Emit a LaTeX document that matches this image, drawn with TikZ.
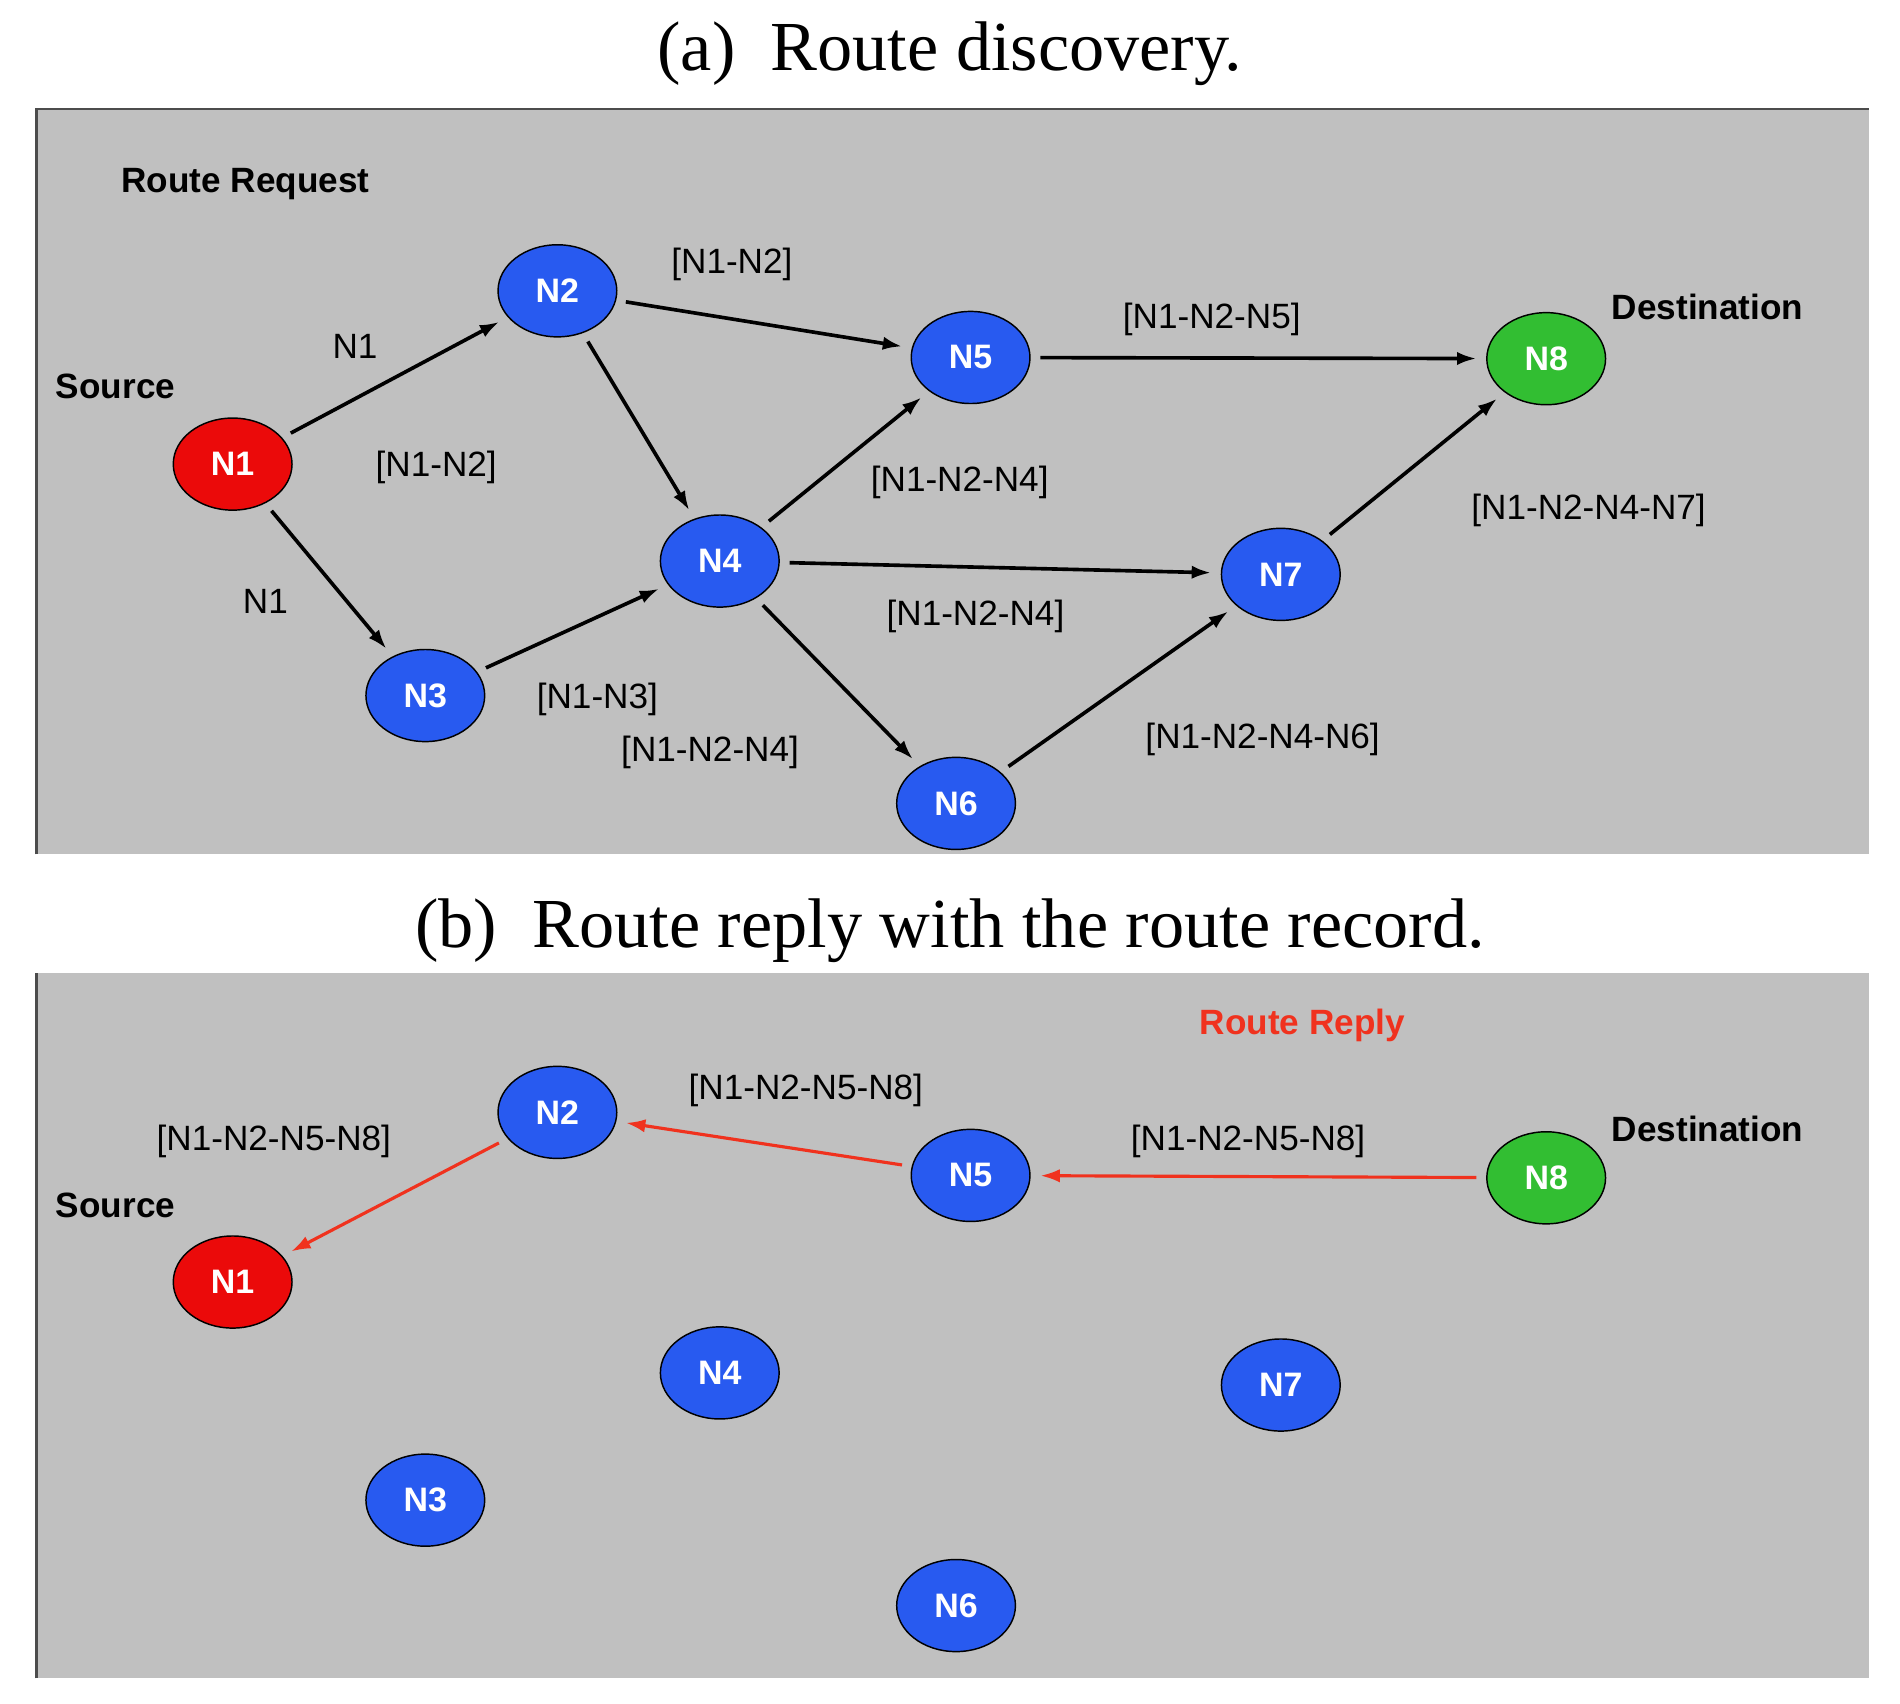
\documentclass[tikz,border=0pt]{standalone}
\usepackage{fontspec}
\setmainfont{Liberation Serif}
\newfontfamily\myss{Liberation Sans}
\usetikzlibrary{shapes.geometric,arrows.meta}
\definecolor{bg}{RGB}{192,192,192}
\definecolor{nblue}{RGB}{40,90,240}
\definecolor{nred}{RGB}{235,10,10}
\definecolor{ngreen}{RGB}{50,190,50}
\definecolor{rr}{RGB}{240,50,30}
\begin{document}
\begin{tikzpicture}[x=1pt,y=-1pt,
 nd/.style={ellipse,draw=black,line width=1.2pt,fill=nblue,minimum width=98pt,minimum height=76pt,inner sep=0pt,text=white,font=\myss\bfseries\fontsize{28}{30}\selectfont},
 rd/.style={nd,fill=nred}, gn/.style={nd,fill=ngreen},
 lb/.style={font=\myss\fontsize{29}{32}\selectfont,inner sep=0pt},
 bl/.style={font=\myss\bfseries\fontsize{29}{32}\selectfont,inner sep=0pt},
 ttl/.style={font=\fontsize{58}{64}\selectfont,inner sep=0pt},
 ar/.style={-{Latex[length=16pt,width=11pt]},line width=3pt,shorten >=8pt,shorten <=8pt},
 ra/.style={ar,draw=rr,line width=2.6pt}]
\useasboundingbox (0,0) rectangle (1568,1406);
\fill[white] (0,0) rectangle (1568,1406);
% panel a
\fill[bg] (30,90) rectangle (1542,705);
\draw[line width=2pt,black!70] (30,705) -- (30,90) -- (1542,90);
\node[ttl] (ta) at (784,44) {(a)\ \ Route discovery.};
\node[bl,anchor=west] (rq) at (100,152) {Route Request};
\node[bl,anchor=west] (sa) at (46,319) {Source};
\node[bl,anchor=west] (da) at (1330,253) {Destination};
\node[rd] (a1) at (192,383) {N1};
\node[nd] (a2) at (460,240) {N2};
\node[nd] (a3) at (351,574) {N3};
\node[nd] (a4) at (594,463) {N4};
\node[nd] (a5) at (801,295) {N5};
\node[nd] (a6) at (789,663) {N6};
\node[nd] (a7) at (1057,474) {N7};
\node[gn] (a8) at (1276,296) {N8};
\draw[ar] (a1) -- (a2); \draw[ar] (a1) -- (a3);
\draw[ar] (a2) -- (a5); \draw[ar] (a2) -- (a4);
\draw[ar] (a3) -- (a4); \draw[ar] (a4) -- (a5);
\draw[ar] (a4) -- (a7); \draw[ar] (a4) -- (a6);
\draw[ar] (a5) -- (a8); \draw[ar] (a6) -- (a7);
\draw[ar] (a7) -- (a8);
\node[lb] (l1) at (293,286) {N1};
\node[lb] (l2) at (219,496) {N1};
\node[lb] (l3) at (360,386) {[N1-N2]};
\node[lb] (l4) at (604,218) {[N1-N2]};
\node[lb] (l5) at (1000,264) {[N1-N2-N5]};
\node[lb] (l6) at (792,398) {[N1-N2-N4]};
\node[lb] (l7) at (805,509) {[N1-N2-N4]};
\node[lb] (l8) at (493,577) {[N1-N3]};
\node[lb] (l9) at (586,621) {[N1-N2-N4]};
\node[lb] (l10) at (1042,610) {[N1-N2-N4-N6]};
\node[lb] (l11) at (1311,421) {[N1-N2-N4-N7]};
% panel b
\fill[bg] (30,803) rectangle (1542,1385);
\draw[line width=2pt,black!70] (30,1385) -- (30,803);
\node[ttl] (tb) at (784,768) {(b)\ \ Route reply with the route record.};
\node[bl,anchor=west,text=rr] (rp) at (990,846) {Route Reply};
\node[bl,anchor=west] (sb) at (46,995) {Source};
\node[bl,anchor=west] (db) at (1330,932) {Destination};
\node[rd] (b1) at (192,1058) {N1};
\node[nd] (b2) at (460,918) {N2};
\node[nd] (b3) at (351,1238) {N3};
\node[nd] (b4) at (594,1133) {N4};
\node[nd] (b5) at (801,970) {N5};
\node[nd] (b6) at (789,1325) {N6};
\node[nd] (b7) at (1057,1143) {N7};
\node[gn] (b8) at (1276,972) {N8};
\draw[ra] (b8) -- (b5); \draw[ra] (b5) -- (b2); \draw[ra] (b2) -- (b1);
\node[lb] (m1) at (665,900) {[N1-N2-N5-N8]};
\node[lb] (m2) at (1030,942) {[N1-N2-N5-N8]};
\node[lb] (m3) at (226,942) {[N1-N2-N5-N8]};
\end{tikzpicture}
\end{document}
